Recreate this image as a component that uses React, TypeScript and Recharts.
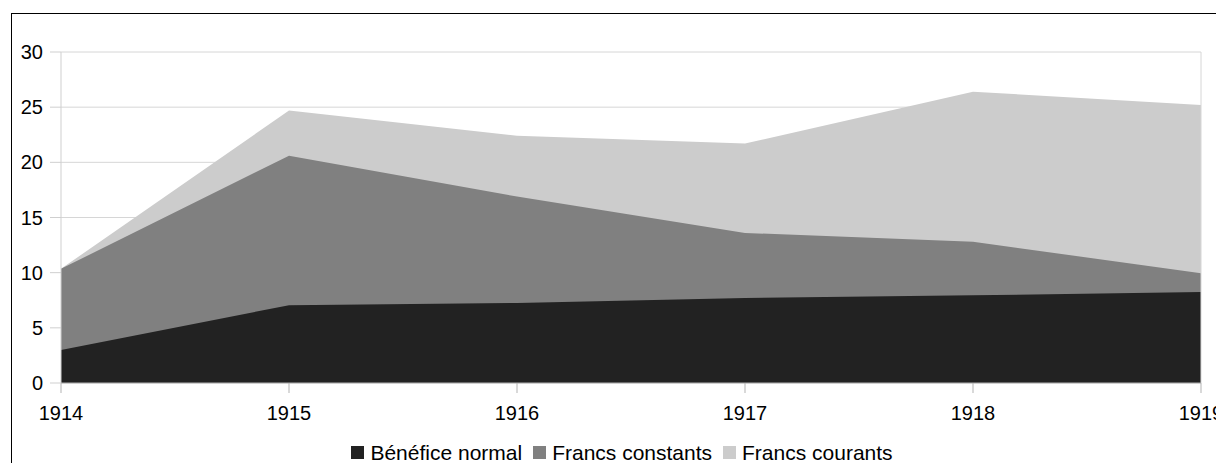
import { AreaChart, Area, XAxis, YAxis, CartesianGrid, Legend, ReferenceLine } from 'recharts';

const years = ['1914', '1915', '1916', '1917', '1918', '1919'];
const beneficeNormal = [3.0, 7.05, 7.25, 7.7, 7.95, 8.25];
const francsConstants = [10.35, 20.6, 16.9, 13.6, 12.8, 9.95];
const francsCourants = [10.35, 24.7, 22.4, 21.7, 26.4, 25.2];
const yTicks = [0, 5, 10, 15, 20, 25, 30];

const series = [
  { key: 'benefice', name: 'Bénéfice normal', color: '#222222' },
  { key: 'constants', name: 'Francs constants', color: '#808080' },
  { key: 'courants', name: 'Francs courants', color: '#cccccc' },
];

const data = years.map((year, i) => ({
  year,
  benefice: beneficeNormal[i],
  constants: francsConstants[i],
  courants: francsCourants[i],
}));

const font = '"Liberation Sans", Arial, sans-serif';

function LegendContent() {
  return (
    <div
      style={{
        display: 'flex',
        justifyContent: 'center',
        paddingLeft: 31,
        fontFamily: font,
        fontSize: 21,
        lineHeight: '23px',
        color: '#000',
      }}
    >
      {series.map((s, i) => (
        <div key={s.key} style={{ display: 'flex', alignItems: 'center', marginRight: i < series.length - 1 ? 11 : 0 }}>
          <span style={{ display: 'inline-block', width: 13, height: 13, background: s.color, marginRight: 6 }} />
          <span>{s.name}</span>
        </div>
      ))}
    </div>
  );
}

export default function App() {
  return (
    <div
      style={{
        marginLeft: 3,
        marginTop: 5,
        width: 1212,
        height: 449,
        borderTop: '1px solid #000',
        borderLeft: '1px solid #000',
        overflow: 'hidden',
        fontFamily: font,
      }}
    >
      <AreaChart width={1212} height={460} data={data} margin={{ top: 38, right: 23, left: 0, bottom: 10 }}>
        <CartesianGrid vertical={false} stroke="#d6d6d6" />
        <XAxis
          dataKey="year"
          height={58}
          tickSize={10}
          tickMargin={13}
          stroke="#b3b3b3"
          tick={{ fill: '#000', fontSize: 20, fontFamily: font }}
        />
        <YAxis
          domain={[0, 30]}
          ticks={yTicks}
          width={49}
          tickSize={11}
          tickMargin={7}
          stroke="#cfcfcf"
          tick={{ fill: '#000', fontSize: 20, fontFamily: font }}
        />
        <Legend verticalAlign="bottom" content={() => <LegendContent />} />
        <Area type="linear" dataKey="courants" name="Francs courants" fill="#cccccc" fillOpacity={1} stroke="none" isAnimationActive={false} />
        <Area type="linear" dataKey="constants" name="Francs constants" fill="#808080" fillOpacity={1} stroke="none" isAnimationActive={false} />
        <Area type="linear" dataKey="benefice" name="Bénéfice normal" fill="#222222" fillOpacity={1} stroke="none" isAnimationActive={false} />
        <ReferenceLine x="1919" stroke="#d6d6d6" />
      </AreaChart>
    </div>
  );
}
